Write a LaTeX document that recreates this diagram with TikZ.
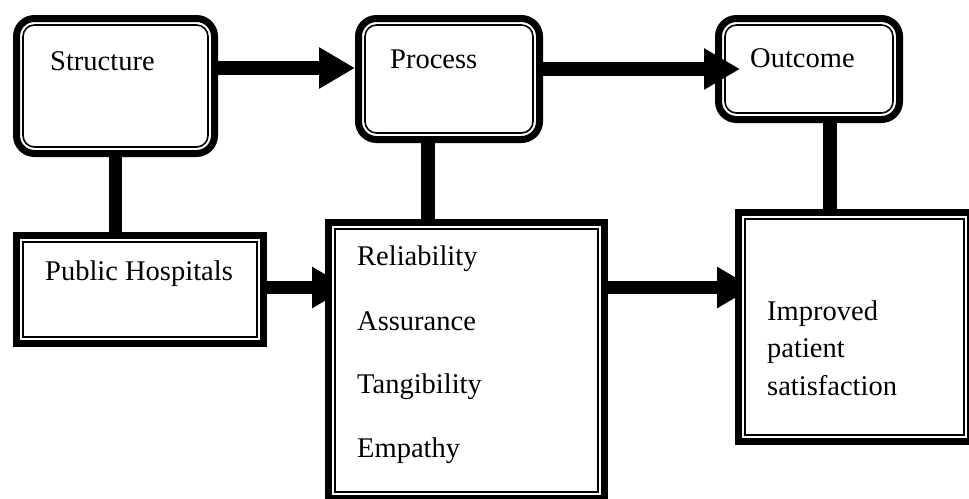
\documentclass[tikz,border=0pt]{standalone}
\usepackage{fontspec}
\setmainfont{Liberation Serif}
\usetikzlibrary{arrows.meta,calc}
\pgfdeclarelayer{background}
\pgfsetlayers{background,main}
\begin{document}
\begin{tikzpicture}[x=1pt,y=-1pt,
  outerbox/.style={draw=black, line width=7pt, fill=white, inner sep=0pt, outer sep=3.5pt},
  sbox/.style={outerbox},
  rbox/.style={outerbox, rounded corners=18pt},
  innerline/.style={draw=black, line width=1.6pt},
  rinnerline/.style={innerline, rounded corners=11.5pt},
  txt/.style={font=\fontsize{28.5}{37.5}\selectfont, inner sep=0pt, anchor=base west},
  conn/.style={draw=black, line width=13.5pt},
  arr/.style={conn, -{Triangle[length=36pt,width=39pt]}}
]
\useasboundingbox (0,0) rectangle (969,498);

% boxes
\node[rbox, minimum width=198pt, minimum height=135pt] (S) at (115.5,86) {};
\node[rbox, minimum width=181pt, minimum height=121pt] (P) at (449,79) {};
\node[rbox, minimum width=181pt, minimum height=101pt] (O) at (809,69) {};
\node[sbox, minimum width=247pt, minimum height=108pt] (H) at (140,289.5) {};
\node[sbox, minimum width=276pt, minimum height=276pt] (M) at (466.5,360.5) {};
\node[sbox, minimum width=232pt, minimum height=229pt] (R) at (854.5,327) {};

% thin inner lines of the double borders
\foreach \n in {S,P,O}
  \draw[rinnerline] ([shift={(10pt,-10pt)}]\n.north west) rectangle ([shift={(-10pt,10pt)}]\n.south east);
\foreach \n in {H,M,R}
  \draw[innerline] ([shift={(10pt,-10pt)}]\n.north west) rectangle ([shift={(-10pt,10pt)}]\n.south east);

% texts
\node[txt] (tS) at (50,70) {Structure};
\node[txt] (tP) at (390,68) {Process};
\node[txt] (tO) at (750,67) {Outcome};
\node[txt] (tH) at (45,280) {Public Hospitals};
\node[txt] (t1) at (357,265) {Reliability};
\node[txt] (t2) at (357,330) {Assurance};
\node[txt] (t3) at (357,393) {Tangibility};
\node[txt] (t4) at (357,457) {Empathy};
\node[txt, align=left] (tR) at (767,395) {Improved\\patient\\satisfaction};

% connectors
\begin{pgfonlayer}{background}
  \coordinate (a1) at ([yshift=18pt]S.east);
  \draw[arr] (a1) -- (a1 -| P.west);
  \draw[conn] (S.south) -- (S.south |- H.north);
  \coordinate (a2) at ([xshift=-21pt]P.south);
  \draw[conn] (a2) -- (a2 |- M.north);
  \coordinate (a3) at ([xshift=21pt]O.south);
  \draw[conn] (a3) -- (a3 |- R.north);
  \coordinate (a4) at ([yshift=2pt]H.east);
  \coordinate (b4) at (a4 -| M.west);
  \draw[arr] (a4) -- ([xshift=23pt]b4);
  \coordinate (a5) at ([yshift=73pt]M.east);
  \coordinate (b5) at (a5 -| R.west);
  \draw[arr] (a5) -- ([xshift=18pt]b5);
\end{pgfonlayer}
\draw[arr] (P.east |- O.west) -- ([xshift=25pt]O.west);
\end{tikzpicture}
\end{document}
